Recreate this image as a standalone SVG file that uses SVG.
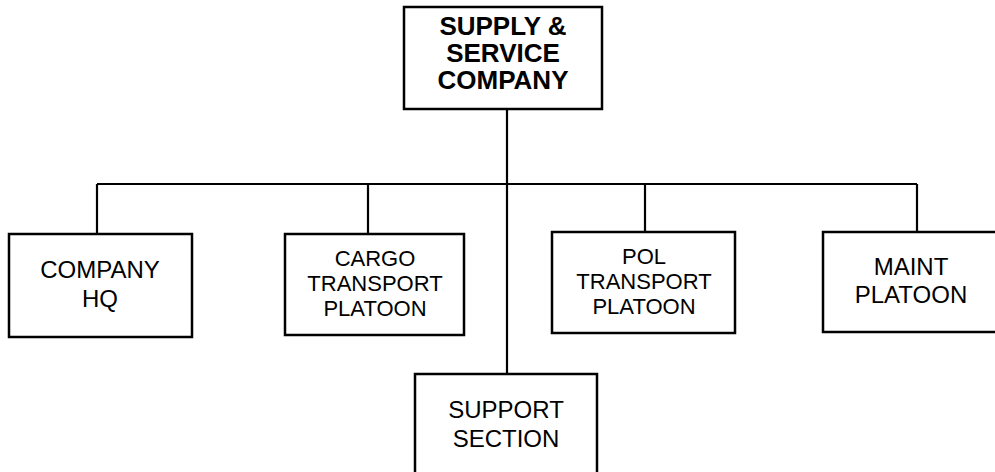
<svg xmlns="http://www.w3.org/2000/svg" width="995" height="472" viewBox="0 0 995 472">
<style>
rect{fill:#fff;stroke:#000;stroke-width:2.5}
.c line{stroke:#000;stroke-width:2.2}
text{font-family:"Liberation Sans",Arial,sans-serif;font-size:24px;text-anchor:middle;fill:#000}
.b{font-weight:bold;font-size:26px}
.s{font-size:22px}
</style>
<rect x="0" y="0" width="995" height="472" style="stroke:none"/>
<g class="c" id="connectors">
<line x1="507" y1="109" x2="507" y2="374"/>
<line x1="97" y1="184" x2="917" y2="184"/>
<line x1="97" y1="184" x2="97" y2="234"/>
<line x1="368" y1="184" x2="368" y2="234"/>
<line x1="645" y1="184" x2="645" y2="232"/>
<line x1="917" y1="184" x2="917" y2="232"/>
</g>
<g id="top">
<rect x="404" y="7" width="198" height="102"/>
<text class="b" x="503" y="35">SUPPLY &amp;</text>
<text class="b" x="503" y="62">SERVICE</text>
<text class="b" x="503" y="89">COMPANY</text>
</g>
<g id="hq">
<rect x="9" y="234" width="183" height="103"/>
<text x="100" y="278">COMPANY</text>
<text x="100" y="307">HQ</text>
</g>
<g id="cargo">
<rect x="285" y="234" width="179" height="101"/>
<text class="s" x="375" y="266">CARGO</text>
<text class="s" x="375" y="291">TRANSPORT</text>
<text class="s" x="375" y="316">PLATOON</text>
</g>
<g id="pol">
<rect x="552" y="232" width="183" height="101"/>
<text class="s" x="644" y="264">POL</text>
<text class="s" x="644" y="289">TRANSPORT</text>
<text class="s" x="644" y="314">PLATOON</text>
</g>
<g id="maint">
<rect x="823" y="232" width="190" height="100"/>
<text x="911" y="275">MAINT</text>
<text x="911" y="303">PLATOON</text>
</g>
<g id="support">
<rect x="415" y="374" width="182" height="110"/>
<text x="506" y="418">SUPPORT</text>
<text x="506" y="447">SECTION</text>
</g>
</svg>
